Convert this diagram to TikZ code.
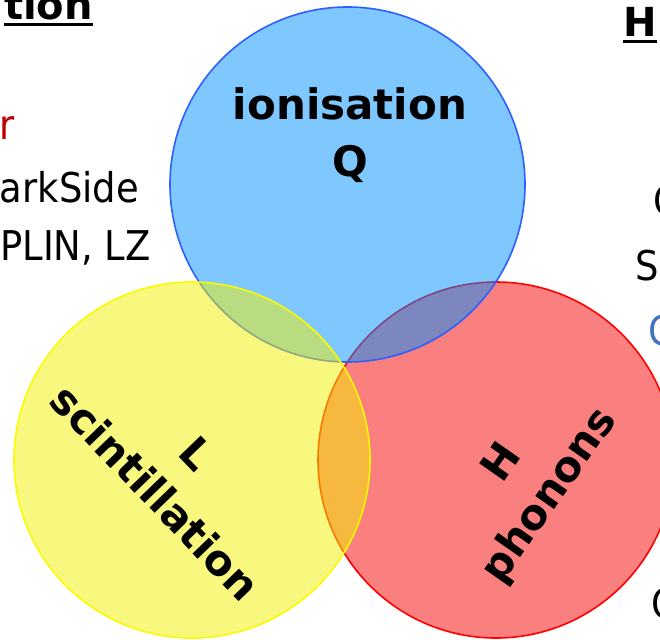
\documentclass[tikz,border=0pt]{standalone}
\usepackage{fontspec}
\setmainfont{DejaVu Sans Condensed}
\newfontfamily\lblfont{DejaVu Sans}
\usetikzlibrary{positioning}
\definecolor{ionFill}{RGB}{0,145,255}
\definecolor{ionLine}{RGB}{45,95,255}
\definecolor{sciFill}{RGB}{242,242,0}
\definecolor{sciLine}{RGB}{250,250,0}
\definecolor{phoFill}{RGB}{245,0,0}
\definecolor{phoLine}{RGB}{255,0,0}
\definecolor{txtRed}{RGB}{192,0,0}
\definecolor{txtBlue}{RGB}{68,114,196}
\newcommand{\ulhead}[1]{\setbox0\hbox{#1}\rlap{\rule[-6.5pt]{\wd0}{3pt}}\box0}

\begin{document}
\begin{tikzpicture}[x=1pt,y=-1pt,
    channel/.style={circle,draw,line width=1.6pt,fill opacity=0.5,minimum size=356pt,inner sep=0pt},
    chlabel/.style={font=\lblfont\bfseries\fontsize{42}{57}\selectfont,align=center,inner sep=0pt},
    side/.style={font=\fontsize{41}{49}\selectfont,inner sep=0pt},
    head/.style={font=\lblfont\bfseries\fontsize{40}{48}\selectfont,inner sep=0pt}]
  \useasboundingbox (0,0) rectangle (660,639);
  \clip (0,0) rectangle (660,639);

  % the three channels
  \node[channel,draw=phoLine,fill=phoFill] (phon) at (496,460) {};
  \node[channel,draw=ionLine,fill=ionFill,minimum size=355pt] (ionis) at (347.5,184.5) {};
  \node[channel,draw=sciLine,fill=sciFill] (scint) at (192,460) {};

  \node[chlabel] (ionLbl) at (350,135) {ionisation\\Q};
  \node[chlabel,rotate=-46] (sciLbl) at (176,473) {L\\scintillation};
  \node[chlabel,rotate=55] (phoLbl) at (527,480) {H\\phonons};

  % left column
  \node[head,anchor=base east] (headL) at (93,20) {\ulhead{tion}};
  \node[side,anchor=base east,text=txtRed] (lineR) at (15,140) {r};
  \node[side,anchor=base east] (lineDS) at (139,202) {arkSide};
  \node[side,anchor=base east] (lineLZ) at (151,260) {PLIN, LZ};

  % right column
  \node[head,anchor=base west] (headR) at (623,37) {\ulhead{H}};
  \node[side,anchor=base west] (lineC) at (653,215) {C};
  \node[side,anchor=base west] (lineS) at (635,280) {S};
  \node[side,anchor=base west,text=txtBlue] (lineCB) at (648,345) {C};
  \node[side,anchor=base west] (lineCL) at (651,618) {C};
\end{tikzpicture}
\end{document}
